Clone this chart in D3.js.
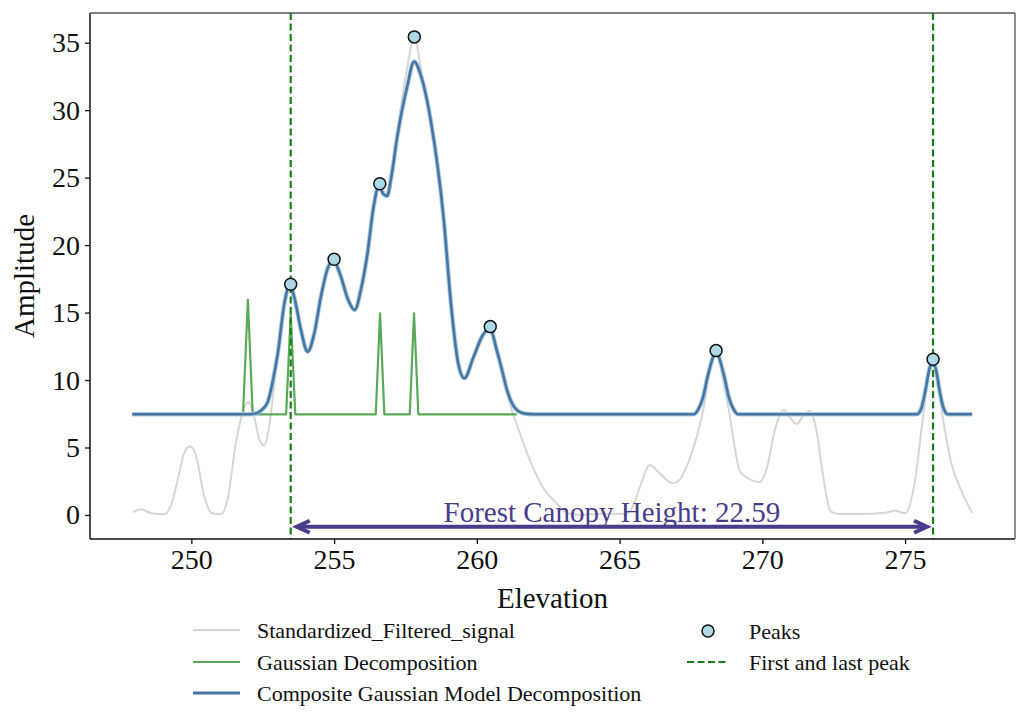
<!DOCTYPE html>
<html>
<head>
<meta charset="utf-8">
<script src="https://cdn.jsdelivr.net/npm/d3@7"></script>
<style>
  body { margin: 0; background: #fff; }
  svg text { font-family: "Liberation Serif", "Times New Roman", serif; }
</style>
</head>
<body>
<div id="chart"></div>
<script>
var width = 1028;
var height = 727;
var margin = { top: 13, right: 13, bottom: 188, left: 90 };

// Standardized_Filtered_signal (grey)
var signalX = [247.95, 248.25, 248.6, 249.05, 249.3, 249.5, 249.75, 249.95, 250.15, 250.45, 250.7, 251.05,
    251.28, 251.55, 251.8, 251.98, 252.2, 252.38, 252.55, 252.72, 252.85, 253.03, 253.25, 253.48, 253.75,
    254.05, 254.3, 254.55, 254.8, 255.0, 255.25, 255.5, 255.72, 255.95, 256.17, 256.4, 256.6, 256.82, 257.0,
    257.25, 257.55, 257.81, 258.05, 258.35, 258.65, 258.85, 259.1, 259.33, 259.56, 259.9, 260.2, 260.47,
    260.75, 261.0, 261.25, 261.5, 261.85, 262.3, 262.8, 263.15, 263.7, 264.3, 265.25, 265.5, 265.75, 266.05,
    266.4, 266.85, 267.1, 267.35, 267.7, 267.95, 268.15, 268.38, 268.6, 268.85, 269.05, 269.2, 269.45, 269.9,
    270.15, 270.45, 270.75, 271.0, 271.2, 271.45, 271.65, 271.9, 272.1, 272.4, 272.7, 273.4, 274.3, 274.65,
    275.0, 275.35, 275.6, 275.75, 275.98, 276.15, 276.3, 276.6, 276.95, 277.35];
var signalY = [0.2, 0.42, 0.12, 0.05, 0.8, 2.4, 4.6, 5.1, 4.5, 1.4, 0.15, 0.05,
    1.3, 5.2, 7.6, 8.4, 7.3, 5.6, 5.15, 6.5, 8.6, 12.0, 15.7, 17.1, 14.4,
    12.1, 13.6, 16.2, 18.4, 18.95, 17.7, 15.9, 15.2, 16.8, 19.4, 23.0, 24.54, 23.7, 25.5,
    29.0, 33.0, 35.43, 33.0, 29.6, 25.0, 21.8, 15.8, 11.6, 10.3, 11.8, 13.3, 13.96,
    11.8, 9.4, 7.6, 6.1, 4.1, 2.1, 0.85, 0.15, 0.0, 0.1, 0.1, 0.8, 2.3, 3.7,
    3.1, 2.35, 2.6, 3.6, 5.8, 8.0, 10.5, 12.18, 10.2, 7.5, 4.8, 3.3, 2.8, 2.45,
    3.4, 6.4, 7.8, 7.15, 6.75, 7.4, 7.7, 6.2, 3.3, 0.25, 0.07, 0.07, 0.17, 0.32,
    0.12, 2.6, 6.8, 9.3, 11.54, 9.5, 7.5, 4.0, 1.9, 0.15];

// Gaussian Decomposition (green)
var gaussX = [247.93, 251.81, 251.98, 252.15, 253.32, 253.48, 253.64,
    256.46, 256.61, 256.76, 257.65, 257.8, 257.95, 261.4];
var gaussY = [7.46, 7.46, 15.95, 7.46, 7.46, 14.9, 7.46,
    7.46, 14.95, 7.46, 7.46, 14.95, 7.46, 7.46];

// Composite Gaussian Model Decomposition (blue)
var compX = [247.93, 251.9, 252.2, 252.45, 252.68, 252.85, 253.03, 253.26, 253.45, 253.62, 253.84, 254.07,
    254.3, 254.54, 254.78, 254.97, 255.2, 255.5, 255.72, 255.95, 256.17, 256.38, 256.57, 256.72, 256.86,
    257.0, 257.21, 257.56, 257.8, 258.05, 258.38, 258.84, 259.1, 259.35, 259.56, 259.89, 260.2, 260.45,
    260.7, 260.88, 261.05, 261.23, 261.45, 261.75, 262.0, 267.6, 267.75, 267.92, 268.1, 268.38, 268.65,
    268.83, 269.0, 269.15, 275.4, 275.55, 275.71, 275.85, 275.96, 276.1, 276.2, 276.35, 276.5, 277.35];
var compY = [7.46, 7.46, 7.5, 7.75, 8.4, 9.9, 12.0, 15.7, 17.05, 16.0, 13.7, 12.1,
    13.4, 16.2, 18.3, 18.9, 17.9, 15.9, 15.2, 16.8, 19.4, 22.8, 24.4, 23.8, 23.65,
    25.0, 28.0, 31.75, 33.6, 32.5, 29.3, 21.9, 15.5, 11.2, 10.13, 11.74, 13.3, 13.84,
    12.2, 10.75, 9.3, 8.28, 7.7, 7.49, 7.46, 7.46, 7.8, 8.7, 10.4, 12.0, 10.4,
    8.7, 7.8, 7.46, 7.46, 7.8, 9.2, 10.8, 11.37, 10.6, 9.3, 7.9, 7.46, 7.46];

// Peaks
var peakX = [253.48, 255.0, 256.6, 257.81, 260.47, 268.38, 275.98];
var peakY = [17.1, 18.95, 24.54, 35.43, 13.96, 12.18, 11.54];

var xTicks = [250, 255, 260, 265, 270, 275];
var yTicks = [0, 5, 10, 15, 20, 25, 30, 35];
var canopyLabel = "Forest Canopy Height: 22.59";
var arrowLevel = -0.87;

var legendItems = [
    { label: "Standardized_Filtered_signal", type: "signal" },
    { label: "Gaussian Decomposition", type: "gauss" },
    { label: "Composite Gaussian Model Decomposition", type: "comp" },
    { label: "Peaks", type: "peak" },
    { label: "First and last peak", type: "dash" }
];

var innerW = width - margin.left - margin.right;
var innerH = height - margin.top - margin.bottom;

var x = d3.scaleLinear().domain([246.45, 278.85]).range([0, innerW]);
var y = d3.scaleLinear().domain([-1.78, 37.2]).range([innerH, 0]);

var svg = d3.select("#chart")
    .append("svg")
    .attr("width", width)
    .attr("height", height);

var g = svg.append("g")
    .attr("transform", "translate(" + margin.left + "," + margin.top + ")");

g.append("defs").append("clipPath").attr("id", "clip")
    .append("rect").attr("width", innerW).attr("height", innerH);

var plot = g.append("g").attr("clip-path", "url(#clip)");

function zip(xs, ys) {
    return xs.map(function (d, i) { return [d, ys[i]]; });
}

var smooth = d3.line()
    .x(function (d) { return x(d[0]); })
    .y(function (d) { return y(d[1]); })
    .curve(d3.curveMonotoneX);

var straight = d3.line()
    .x(function (d) { return x(d[0]); })
    .y(function (d) { return y(d[1]); });

plot.append("path")
    .attr("d", smooth(zip(signalX, signalY)))
    .attr("fill", "none")
    .attr("stroke", "#d6d6d6")
    .attr("stroke-width", 2);

plot.append("path")
    .attr("d", straight(zip(gaussX, gaussY)))
    .attr("fill", "none")
    .attr("stroke", "#5aa95a")
    .attr("stroke-width", 2.2)
    .attr("stroke-linejoin", "round");

// halo + core for the composite curve
plot.append("path")
    .attr("d", smooth(zip(compX, compY)))
    .attr("fill", "none")
    .attr("stroke", "#aecbe3")
    .attr("stroke-width", 4.5);

plot.append("path")
    .attr("d", smooth(zip(compX, compY)))
    .attr("fill", "none")
    .attr("stroke", "#4677a3")
    .attr("stroke-width", 2.6);

var firstPeak = peakX[0];
var lastPeak = peakX[peakX.length - 1];

plot.selectAll(".edge-line")
    .data([firstPeak, lastPeak])
    .enter()
    .append("line")
    .attr("class", "edge-line")
    .attr("x1", function (d) { return x(d); })
    .attr("x2", function (d) { return x(d); })
    .attr("y1", 0)
    .attr("y2", innerH)
    .attr("stroke", "#1a7f1a")
    .attr("stroke-width", 2.2)
    .attr("stroke-dasharray", "7,3.5");

plot.selectAll(".peak")
    .data(zip(peakX, peakY))
    .enter()
    .append("circle")
    .attr("class", "peak")
    .attr("cx", function (d) { return x(d[0]); })
    .attr("cy", function (d) { return y(d[1]); })
    .attr("r", 6)
    .attr("fill", "#add8e6")
    .attr("stroke", "#111")
    .attr("stroke-width", 1.5);

// double arrow between first and last peak
var ay = y(arrowLevel);
var ax1 = x(firstPeak) + 6;
var ax2 = x(lastPeak) - 6;
var arrowColor = "#483d8b";

plot.append("line")
    .attr("x1", ax1 + 2).attr("x2", ax2 - 2)
    .attr("y1", ay).attr("y2", ay)
    .attr("stroke", arrowColor)
    .attr("stroke-width", 4);

plot.append("path")
    .attr("d", "M" + (ax1 + 13) + "," + (ay - 6) + "L" + ax1 + "," + ay + "L" + (ax1 + 13) + "," + (ay + 6))
    .attr("fill", "none")
    .attr("stroke", arrowColor)
    .attr("stroke-width", 4)
    .attr("stroke-linejoin", "miter");

plot.append("path")
    .attr("d", "M" + (ax2 - 13) + "," + (ay - 6) + "L" + ax2 + "," + ay + "L" + (ax2 - 13) + "," + (ay + 6))
    .attr("fill", "none")
    .attr("stroke", arrowColor)
    .attr("stroke-width", 4)
    .attr("stroke-linejoin", "miter");

g.append("text")
    .attr("x", (x(firstPeak) + x(lastPeak)) / 2)
    .attr("y", ay - 5)
    .attr("text-anchor", "middle")
    .attr("font-size", 29)
    .attr("fill", arrowColor)
    .text(canopyLabel);

// axes
var xAxis = g.append("g")
    .attr("transform", "translate(0," + innerH + ")")
    .call(d3.axisBottom(x).tickValues(xTicks).tickSize(5).tickPadding(4).tickFormat(d3.format("d")));

var yAxis = g.append("g")
    .call(d3.axisLeft(y).tickValues(yTicks).tickSize(5).tickPadding(5).tickFormat(d3.format("d")));

[xAxis, yAxis].forEach(function (a) {
    a.select(".domain").remove();
    a.selectAll(".tick line").attr("stroke", "#111").attr("stroke-width", 1.3);
    a.selectAll(".tick text")
        .attr("font-family", "Liberation Serif, Times New Roman, serif")
        .attr("font-size", 28)
        .attr("fill", "#111");
});
xAxis.selectAll(".tick text").attr("dy", "0.76em");

// frame
g.append("line").attr("x1", 0).attr("x2", 0).attr("y1", 0).attr("y2", innerH)
    .attr("stroke", "#111").attr("stroke-width", 1.5);
g.append("line").attr("x1", 0).attr("x2", innerW).attr("y1", innerH).attr("y2", innerH)
    .attr("stroke", "#111").attr("stroke-width", 1.5);
g.append("line").attr("x1", 0).attr("x2", innerW).attr("y1", 0).attr("y2", 0)
    .attr("stroke", "#555").attr("stroke-width", 1.3);
g.append("line").attr("x1", innerW).attr("x2", innerW).attr("y1", 0).attr("y2", innerH)
    .attr("stroke", "#555").attr("stroke-width", 1.3);

svg.append("text")
    .attr("x", margin.left + innerW / 2)
    .attr("y", 608)
    .attr("text-anchor", "middle")
    .attr("font-size", 29)
    .attr("fill", "#111")
    .text("Elevation");

svg.append("text")
    .attr("transform", "translate(34," + (margin.top + innerH / 2) + ") rotate(-90)")
    .attr("text-anchor", "middle")
    .attr("font-size", 29)
    .attr("fill", "#111")
    .text("Amplitude");

// legend
var legendPos = [
    { x: 193, y: 630 }, { x: 193, y: 662 }, { x: 193, y: 693 },
    { x: 687, y: 631 }, { x: 687, y: 662 }
];

var legend = svg.selectAll(".legend-item")
    .data(legendItems)
    .enter()
    .append("g")
    .attr("class", "legend-item")
    .attr("transform", function (d, i) { return "translate(" + legendPos[i].x + "," + legendPos[i].y + ")"; });

legend.each(function (d) {
    var item = d3.select(this);
    if (d.type === "peak") {
        item.append("circle").attr("cx", 21).attr("cy", 0).attr("r", 6)
            .attr("fill", "#add8e6").attr("stroke", "#111").attr("stroke-width", 1.5);
    } else if (d.type === "dash") {
        item.append("line").attr("x1", 0).attr("x2", 40).attr("y1", 0).attr("y2", 0)
            .attr("stroke", "#1a7f1a").attr("stroke-width", 2.2).attr("stroke-dasharray", "7,3.5");
    } else {
        var col = d.type === "signal" ? "#d6d6d6" : (d.type === "gauss" ? "#5aa95a" : "#4677a3");
        item.append("line").attr("x1", 0).attr("x2", 47).attr("y1", 0).attr("y2", 0)
            .attr("stroke", col).attr("stroke-width", d.type === "comp" ? 3 : 2.2);
    }
    item.append("text")
        .attr("x", d.type === "peak" || d.type === "dash" ? 62 : 64)
        .attr("y", 8)
        .attr("font-size", 22)
        .attr("fill", "#111")
        .text(d.label);
});
</script>
</body>
</html>
